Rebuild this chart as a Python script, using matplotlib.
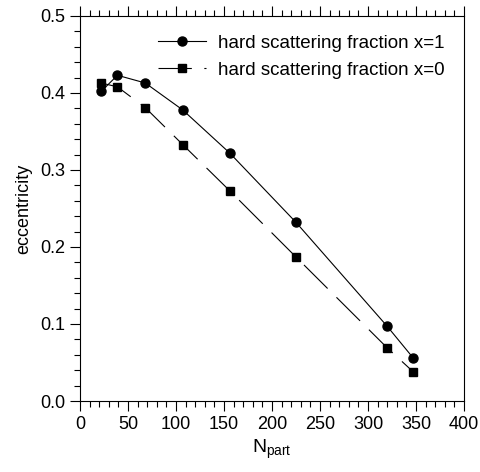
import numpy as np
import matplotlib
matplotlib.use('Agg')
import matplotlib.pyplot as plt
from matplotlib.ticker import MultipleLocator

plt.rcParams['font.family'] = ['Liberation Sans', 'DejaVu Sans']
plt.rcParams['mathtext.fontset'] = 'custom'
plt.rcParams['mathtext.rm'] = 'Liberation Sans'
plt.rcParams['mathtext.it'] = 'Liberation Sans'
plt.rcParams['lines.scale_dashes'] = False

# Donnees
npart = [22, 39, 68, 107, 156, 225, 320, 347]
ecc_x1 = [0.402, 0.423, 0.413, 0.378, 0.322, 0.232, 0.097, 0.056]
ecc_x0 = [0.413, 0.408, 0.381, 0.333, 0.273, 0.187, 0.069, 0.038]
labels = ['hard scattering fraction x=1', 'hard scattering fraction x=0']

fig = plt.figure(figsize=(4.8, 4.72), dpi=100)
ax = fig.add_axes([80/480, 1 - 401/472, 384/480, 385/472])

ax.plot(npart, ecc_x1, '-', color='black', lw=0.8, marker='o', ms=6.5,
        label=labels[0])
ax.plot(npart, ecc_x0, color='black', lw=0.8, marker='s', ms=6,
        dashes=(24, 9), label=labels[1])

ax.set_xlim(0, 400)
ax.set_ylim(0, 0.5)
ax.xaxis.set_major_locator(MultipleLocator(50))
ax.xaxis.set_minor_locator(MultipleLocator(10))
ax.yaxis.set_major_locator(MultipleLocator(0.1))
ax.yaxis.set_minor_locator(MultipleLocator(0.02))
ax.yaxis.set_major_formatter(matplotlib.ticker.FormatStrFormatter('%.1f'))

ax.tick_params(which='both', direction='out', top=True, right=False,
               labelsize=13, width=0.8, colors='black')
ax.tick_params(which='major', length=7)
ax.tick_params(which='minor', length=4)
for s in ax.spines.values():
    s.set_linewidth(0.8)

ax.set_xlabel('N$_{\\mathrm{part}}$', fontsize=14, labelpad=4)
ax.set_ylabel('eccentricity', fontsize=13, labelpad=6)

ax.legend(loc='upper right', bbox_to_anchor=(0.985, 0.985), frameon=False,
          fontsize=13.5, handlelength=2.6, borderaxespad=0.3,
          handletextpad=0.65, labelspacing=0.5)

fig.savefig('out.png', dpi=100)
